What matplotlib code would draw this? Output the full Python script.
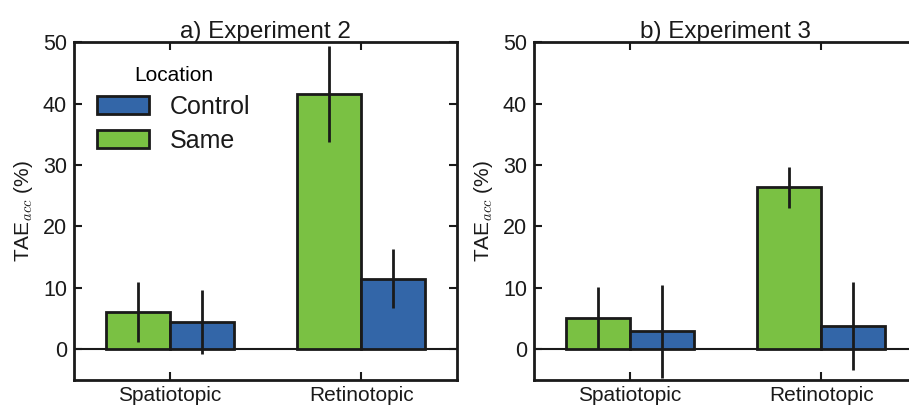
import matplotlib
matplotlib.use("Agg")
import matplotlib.pyplot as plt
import numpy as np

plt.rcParams['font.family'] = ['Liberation Sans', 'DejaVu Sans']
plt.rcParams['mathtext.fontset'] = 'cm'

# Datos
categorias = ["Spatiotopic", "Retinotopic"]
titulos = ["a) Experiment 2", "b) Experiment 3"]
same_exp2 = [6.1, 41.5]
same_err_exp2 = [4.9, 7.8]
control_exp2 = [4.5, 11.5]
control_err_exp2 = [5.2, 4.8]
same_exp3 = [5.1, 26.4]
same_err_exp3 = [5.1, 3.35]
control_exp3 = [2.9, 3.8]
control_err_exp3 = [7.5, 7.2]

verde = "#7ac143"
azul = "#3366a8"

fig = plt.figure(figsize=(9.09, 4.08), dpi=100)
ax1 = fig.add_axes([0.0814, 0.0686, 0.4213, 0.828])
ax2 = fig.add_axes([0.5875, 0.0686, 0.4213, 0.828])

x = np.arange(len(categorias))
width = 0.335

datos = [
    (ax1, titulos[0], same_exp2, same_err_exp2, control_exp2, control_err_exp2),
    (ax2, titulos[1], same_exp3, same_err_exp3, control_exp3, control_err_exp3),
]

for ax, titulo, same, same_err, ctrl, ctrl_err in datos:
    b_same = ax.bar(x - width / 2, same, width, color=verde, edgecolor="#1a1a1a",
                    linewidth=2, label="Same", zorder=2)
    b_ctrl = ax.bar(x + width / 2, ctrl, width, color=azul, edgecolor="#1a1a1a",
                    linewidth=2, label="Control", zorder=2)
    ax.errorbar(x - width / 2, same, yerr=same_err, fmt="none", ecolor="#1a1a1a",
                elinewidth=2, capsize=0, zorder=3)
    ax.errorbar(x + width / 2, ctrl, yerr=ctrl_err, fmt="none", ecolor="#1a1a1a",
                elinewidth=2, capsize=0, zorder=3)
    ax.axhline(0, color="#1a1a1a", linewidth=1.5, zorder=1)
    ax.set_xlim(-0.5, 1.5)
    ax.set_ylim(-5, 50)
    ax.set_xticks(x)
    ax.set_xticklabels(categorias)
    ax.set_yticks([0, 10, 20, 30, 40, 50])
    ax.tick_params(direction="in", top=True, right=True, length=6, width=1.5,
                   labelsize=15.5, pad=5, color="#1a1a1a", labelcolor="#1a1a1a")
    ax.tick_params(axis="x", labelsize=15, pad=4)
    for s in ax.spines.values():
        s.set_linewidth(2)
        s.set_color("#1a1a1a")
    ax.set_title(titulo, fontsize=17.5, color="#1a1a1a", pad=3)
    ax.set_ylabel(r"TAE$_{acc}$ (%)", fontsize=15, color="#1a1a1a", labelpad=6)

handles = [b_ctrl, b_same]
leg = ax1.legend(handles, ["Control", "Same"], title="Location", frameon=False,
                 loc="upper left", bbox_to_anchor=(0.06, 0.93), borderpad=0,
                 borderaxespad=0, fontsize=18, title_fontsize=15,
                 handlelength=2.1, handleheight=0.75, handletextpad=0.8,
                 labelspacing=0.4)
for t in leg.get_texts():
    t.set_color("#1a1a1a")

plt.savefig("out.png", dpi=100)
